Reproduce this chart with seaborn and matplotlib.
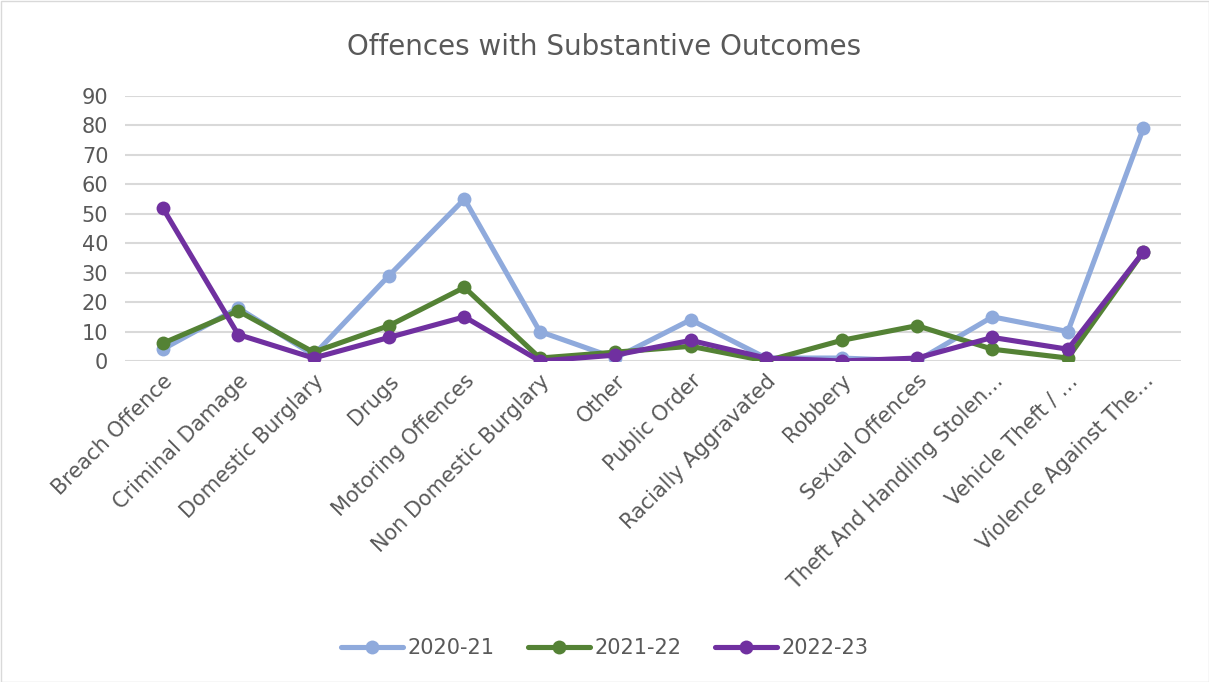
import matplotlib
matplotlib.use("Agg")
import matplotlib.pyplot as plt
import seaborn as sns
import pandas as pd
from matplotlib.patches import Rectangle
from matplotlib.lines import Line2D

categories = ["Breach Offence", "Criminal Damage", "Domestic Burglary", "Drugs",
              "Motoring Offences", "Non Domestic Burglary", "Other", "Public Order",
              "Racially Aggravated", "Robbery", "Sexual Offences",
              "Theft And Handling Stolen…", "Vehicle Theft / …", "Violence Against The…"]
s2020_21 = [4, 18, 2, 29, 55, 10, 1, 14, 1, 1, 0, 15, 10, 79]
s2021_22 = [6, 17, 3, 12, 25, 1, 3, 5, 0, 7, 12, 4, 1, 37]
s2022_23 = [52, 9, 1, 8, 15, 0, 2, 7, 1, 0, 1, 8, 4, 37]
series_names = ["2020-21", "2021-22", "2022-23"]
colors = ["#8FAADC", "#548235", "#7030A0"]

rows = []
for name, vals in zip(series_names, [s2020_21, s2021_22, s2022_23]):
    for i, v in enumerate(vals):
        rows.append({"pos": i, "value": v, "series": name})
df = pd.DataFrame(rows)

sns.set_theme(style="white")
plt.rcParams['font.family'] = ['DejaVu Sans']
txt = "#595959"

fig = plt.figure(figsize=(12.09, 6.82), dpi=100)
ax = fig.add_axes([125/1209, 1-361/682, (1181-125)/1209, (361-96)/682])

sns.lineplot(data=df, x="pos", y="value", hue="series", palette=colors,
             marker="o", markersize=10, markeredgewidth=0, linewidth=3.7,
             sort=False, ax=ax, legend=False)

ax.set_xlim(-0.5, len(categories) - 0.5)
ax.set_ylim(0, 90)
ax.set_yticks(range(0, 91, 10))
ax.yaxis.grid(True, color="#d9d9d9", linewidth=1.5)
ax.set_axisbelow(True)
for s in ax.spines.values():
    s.set_visible(False)
ax.set_xticks(range(len(categories)))
ax.set_xticklabels(categories, rotation=45, ha="right", rotation_mode="anchor",
                   fontsize=15, color=txt)
ax.tick_params(axis="y", labelsize=15, labelcolor=txt, length=0, pad=12)
ax.tick_params(axis="x", length=0, pad=7)
ax.set_xlabel("")
ax.set_ylabel("")

fig.text(0.5, 1-47/682, "Offences with Substantive Outcomes", ha="center", va="center",
         fontsize=20, color=txt)

handles = [Line2D([0], [0], color=c, linewidth=3.7, marker="o", markersize=10,
                  markeredgewidth=0) for c in colors]
fig.legend(handles, series_names, loc="center", bbox_to_anchor=(0.5, 1-648/682),
           ncol=3, frameon=False, fontsize=15, labelcolor=txt, handlelength=3.0,
           columnspacing=1.6, handletextpad=0.2)

fig.patches.append(Rectangle((0.5/1209, 0.5/682), 1-1/1209, 1-1/682, transform=fig.transFigure,
                             fill=False, edgecolor="#d9d9d9", linewidth=1))

fig.savefig("out.png", dpi=100)
